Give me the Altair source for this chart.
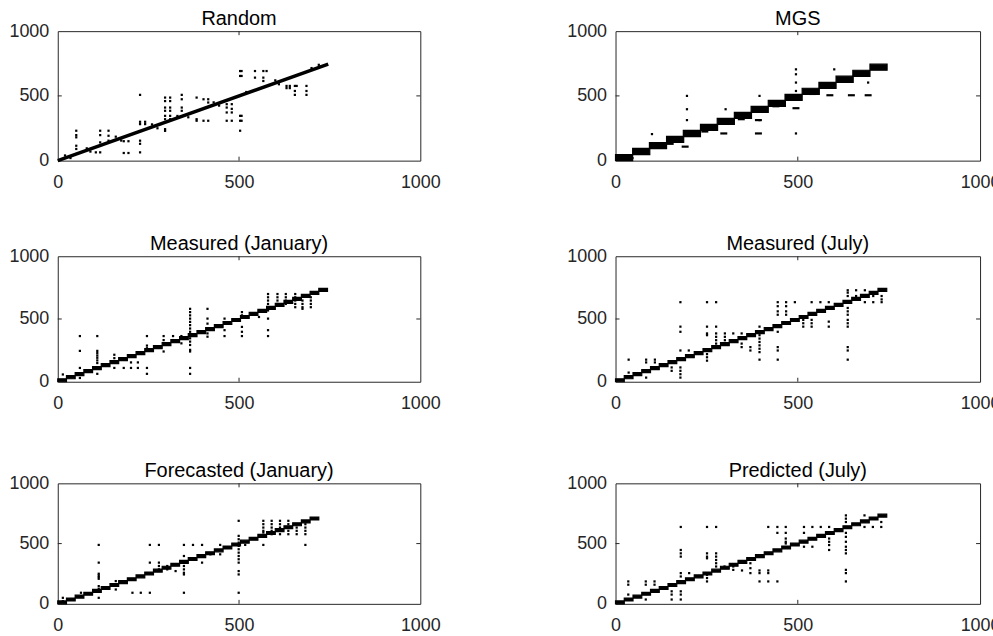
import altair as alt
import pandas as pd

FONT = "Liberation Sans"
INK = "#262626"

tick_values = [0, 500, 1000]
inner_ticks = [500]

titles = ["Random", "MGS", "Measured (January)", "Measured (July)",
          "Forecasted (January)", "Predicted (July)"]

# Random: diagonal band end points
random_diag_x = [0, 746]
random_diag_y = [0, 746]

# daily 24x24 blocks
days31_start = [0, 24, 48, 72, 96, 120, 144, 168, 192, 216, 240, 264, 288, 312, 336,
                360, 384, 408, 432, 456, 480, 504, 528, 552, 576, 600, 624, 648, 672,
                696, 720]
days30_start = [0, 24, 48, 72, 96, 120, 144, 168, 192, 216, 240, 264, 288, 312, 336,
                360, 384, 408, 432, 456, 480, 504, 528, 552, 576, 600, 624, 648, 672,
                696]
day_len = 24

# MGS blocks
mgs_start = [0, 47, 93, 140, 186, 233, 279, 326, 372, 419, 465, 512, 558, 605, 651, 698]
mgs_len = 47
mgs_dash_x = [191, 297, 392, 392, 495, 588, 647, 693, 40, 150, 245, 345, 440, 540]
mgs_dash_y = [108, 210, 210, 313, 405, 505, 505, 505, 20, 130, 225, 320, 420, 515]

random_x = [51, 51, 51, 51, 51, 117, 117, 117, 140, 140, 140, 105, 117, 182, 195, 182, 195,
            227, 227, 227, 227, 227, 227, 241, 241,
            296, 296, 296, 296, 296, 296, 296, 296, 310, 310, 310, 310, 310, 310,
            342, 342, 342, 342, 383, 383, 383, 402, 402, 415, 415, 415,
            466, 466, 466, 466, 480, 480, 480, 480,
            503, 503, 503, 503, 503, 507, 507, 507, 507, 544, 544,
            567, 567, 567, 576, 631, 631, 640, 640, 654, 654, 654, 659, 686, 686, 686,
            20, 35, 80, 90, 160, 175, 260, 275, 330, 360, 430, 445, 520, 600, 610, 700, 720]
random_y = [231, 197, 180, 115, 90, 231, 197, 141, 231, 192, 154, 64, 64, 150, 150, 59, 59,
            508, 300, 282, 154, 130, 64, 300, 282,
            487, 460, 410, 385, 346, 320, 243, 230, 487, 460, 410, 385, 346, 320,
            508, 474, 410, 385, 487, 320, 308, 474, 308, 474, 449, 308,
            436, 410, 372, 308, 436, 400, 372, 308,
            692, 654, 346, 308, 231, 692, 654, 346, 308, 692, 641,
            692, 641, 615, 692, 577, 560, 577, 560, 577, 538, 508, 577, 577, 538, 508,
            40, 20, 95, 70, 185, 155, 280, 250, 345, 335, 450, 425, 530, 620, 590, 715, 740]

mjan_x = [14, 30, 61, 61, 61, 61, 109, 109, 109, 109, 109, 109, 109, 109,
          156, 156, 156, 182, 202, 202, 221, 221, 246, 246, 246, 246, 246,
          292, 292, 292, 318, 318, 341, 341,
          365, 365, 365, 365, 365, 365, 365, 365, 365, 365, 365, 365, 365, 365, 365, 365,
          413, 413, 413, 413, 413, 460, 460, 460, 508, 508, 508, 508, 508, 555,
          580, 580, 580, 580, 580, 580, 580, 580, 580, 606, 606, 606, 606,
          629, 629, 629, 629, 655, 655, 655, 655, 655, 675, 675, 675, 675,
          698, 698, 698, 698]
mjan_y = [58, 40, 364, 246, 110, 30, 364, 246, 228, 209, 191, 170, 149, 63,
          215, 188, 110, 110, 154, 110, 154, 110, 364, 288, 267, 110, 63,
          364, 332, 241, 364, 332, 364, 306,
          581, 555, 529, 503, 477, 451, 424, 398, 372, 346, 320, 293, 254, 241, 110, 63,
          581, 503, 463, 385, 359, 503, 411, 364, 555, 529, 437, 398, 364, 516,
          699, 673, 647, 620, 594, 568, 503, 411, 364, 699, 673, 647, 620,
          699, 673, 647, 620, 699, 673, 647, 620, 594, 647, 620, 594, 581,
          673, 647, 620, 594]

mjul_x = [36, 36, 84, 84, 84, 108, 108, 154, 154,
          178, 178, 178, 178, 178, 178, 178, 178, 201,
          251, 251, 251, 251, 251, 251, 251, 251,
          276, 276, 276, 276, 276, 276, 300, 300, 300, 300, 323, 323,
          346, 346, 346, 370, 370,
          395, 395, 395, 395, 395, 395, 395, 395,
          445, 445, 445, 445, 445, 445, 445, 445, 468, 468, 468, 468, 492,
          515, 515, 515, 538, 538, 538, 538, 562, 585, 585, 585,
          637, 637, 637, 637, 637, 637, 637, 637, 637, 637, 637, 637,
          660, 660, 684, 684, 684, 707, 707, 730, 730, 730]
mjul_y = [176, 73, 176, 154, 33, 176, 154, 114, 87,
          634, 439, 398, 249, 114, 87, 60, 33, 249,
          634, 439, 385, 371, 249, 220, 195, 168,
          634, 439, 385, 358, 331, 304, 385, 358, 331, 304, 385, 331,
          385, 304, 276, 276, 249,
          439, 371, 344, 317, 290, 263, 236, 176,
          634, 602, 561, 534, 398, 276, 249, 176, 634, 602, 561, 534, 634,
          493, 466, 439, 634, 493, 466, 439, 634, 634, 479, 439,
          729, 710, 683, 588, 561, 534, 493, 466, 439, 276, 249, 176,
          729, 683, 729, 683, 634, 683, 634, 683, 656, 634]

fjan_x = [14, 14, 64, 64, 113, 113, 113, 113, 113, 113, 113, 113, 113,
          160, 160, 206, 229, 254, 254, 254, 279, 279, 279, 279, 302, 302, 325,
          348, 348, 348, 348, 348, 348, 348, 373, 398, 398, 421, 448, 448,
          499, 499, 499, 499, 499, 499, 499, 499, 499, 499, 499, 499, 499, 517,
          567, 567, 567, 567, 567, 567, 590, 590, 590, 590, 590,
          613, 613, 613, 613, 613, 636, 636, 636, 636, 636,
          659, 659, 659, 659, 683, 683, 683, 683, 683]
fjan_y = [50, 22, 92, 64, 489, 342, 250, 236, 222, 208, 147, 125, 50,
          189, 119, 92, 92, 489, 342, 92, 489, 342, 314, 286, 314, 286, 272,
          489, 397, 314, 286, 258, 244, 92, 489, 489, 342, 411, 489, 411,
          689, 564, 536, 508, 481, 453, 425, 397, 370, 342, 272, 244, 92, 489,
          689, 661, 633, 606, 592, 489, 689, 661, 633, 606, 578,
          689, 661, 633, 606, 578, 689, 661, 633, 606, 578,
          661, 633, 606, 578, 661, 633, 606, 578, 489]

pjul_x = [35, 35, 35, 83, 83, 83, 107, 107, 154, 154, 154,
          179, 179, 179, 179, 179, 179, 179, 179, 179, 202,
          251, 251, 251, 251, 251, 251, 251, 276, 276, 276, 276, 276, 276,
          299, 323, 323, 347, 370, 370, 370, 395, 395, 395, 419, 419, 419, 419,
          444, 444, 444, 467, 467, 467, 467, 467, 517, 517, 517, 540, 540, 563,
          586, 586, 586, 586, 586,
          632, 632, 632, 632, 632, 632, 632, 632, 632, 632, 632, 632, 632,
          683, 683, 706, 729, 729]
pjul_y = [186, 159, 77, 186, 159, 36, 186, 159, 104, 77, 36,
          638, 447, 419, 392, 255, 227, 104, 77, 36, 255,
          638, 419, 392, 378, 241, 214, 186, 638, 419, 392, 364, 337, 310,
          310, 310, 282, 277, 337, 296, 255, 277, 255, 186, 638, 277, 255, 186,
          638, 589, 186, 638, 589, 542, 515, 501, 638, 589, 474, 638, 474, 638,
          638, 542, 515, 488, 447,
          734, 707, 679, 638, 589, 556, 515, 474, 447, 419, 282, 255, 186,
          734, 638, 638, 679, 638]

mgs_x = [100, 196, 196, 196, 302, 395, 395, 495, 495, 495, 495, 495, 600, 693, 693]
mgs_y = [205, 500, 397, 313, 397, 500, 313, 705, 667, 603, 538, 210, 705, 667, 603]

SC = alt.Scale(domain=[0, 1000], nice=False, zero=False)


def ax(pad):
    return alt.Axis(values=tick_values, labelPadding=pad, title=None, labelFlush=False,
                    ticks=False, domain=False, grid=False, labelOverlap=False, format="d",
                    labelFont=FONT, labelFontSize=18, labelColor=INK)


def panel(title, w, h, px, py, blocks=None, blen=None, diag=None, dashes=None):
    layers = []
    pdf = pd.DataFrame({"x": px, "y": py})
    layers.append(alt.Chart(pdf).mark_square(color="black", size=5, opacity=1).encode(
        x=alt.X("x:Q", scale=SC, axis=ax(13)), y=alt.Y("y:Q", scale=SC, axis=ax(9))))
    if diag is not None:
        dd = pd.DataFrame({"x": diag[0], "y": diag[1]})
        layers.append(alt.Chart(dd).mark_line(color="black", strokeWidth=3.5).encode(
            x=alt.X("x:Q", scale=SC), y=alt.Y("y:Q", scale=SC)))
    if blocks is not None:
        bd = pd.DataFrame({"s": blocks})
        layers.append(alt.Chart(bd).transform_calculate(e=f"datum.s + {blen}").mark_rect(
            color="black", stroke="black", strokeWidth=1.2).encode(
            x=alt.X("s:Q", scale=SC), x2="e:Q",
            y=alt.Y("s:Q", scale=SC), y2="e:Q"))
    if dashes is not None:
        dd = pd.DataFrame({"x": dashes[0], "y": dashes[1]})
        layers.append(alt.Chart(dd).mark_point(shape="M-1,0H1", color="black", strokeWidth=2.2,
                                               size=49, opacity=1).encode(
            x=alt.X("x:Q", scale=SC), y=alt.Y("y:Q", scale=SC)))
    td = pd.DataFrame({"t": inner_ticks})
    base = alt.Chart(td).mark_rule(color=INK, strokeWidth=1)
    layers.append(base.encode(x=alt.X("t:Q", scale=SC), y=alt.value(h), y2=alt.value(h - 4)))
    layers.append(base.encode(x=alt.X("t:Q", scale=SC), y=alt.value(0), y2=alt.value(4)))
    layers.append(base.encode(y=alt.Y("t:Q", scale=SC), x=alt.value(0), x2=alt.value(4)))
    layers.append(base.encode(y=alt.Y("t:Q", scale=SC), x=alt.value(w), x2=alt.value(w - 4)))
    return alt.layer(*layers).properties(
        width=w, height=h,
        title=alt.TitleParams(title, fontSize=20, font=FONT, fontWeight="normal",
                              color="black", offset=0, dy=7))


WL, WR = 364, 366
p1 = panel(titles[0], WL, 130, random_x, random_y, diag=(random_diag_x, random_diag_y))
p2 = panel(titles[1], WR, 130, mgs_x, mgs_y, blocks=mgs_start, blen=mgs_len,
           dashes=(mgs_dash_x, mgs_dash_y))
p3 = panel(titles[2], WL, 126, mjan_x, mjan_y, blocks=days31_start, blen=day_len)
p4 = panel(titles[3], WR, 126, mjul_x, mjul_y, blocks=days31_start, blen=day_len)
p5 = panel(titles[4], WL, 121, fjan_x, fjan_y, blocks=days30_start, blen=day_len)
p6 = panel(titles[5], WR, 121, pjul_x, pjul_y, blocks=days31_start, blen=day_len)

HS = 125
chart = alt.vconcat(
    alt.hconcat(p1, p2, spacing=HS),
    alt.vconcat(
        alt.hconcat(p3, p4, spacing=HS),
        alt.hconcat(p5, p6, spacing=HS),
        spacing=47,
    ),
    spacing=41,
).properties(
    padding={"left": 8, "top": 7, "right": -8, "bottom": 0},
    background="white",
).configure_view(stroke=INK, strokeWidth=1)

chart.save("out.html", embed_options={"renderer": "svg", "actions": False})
